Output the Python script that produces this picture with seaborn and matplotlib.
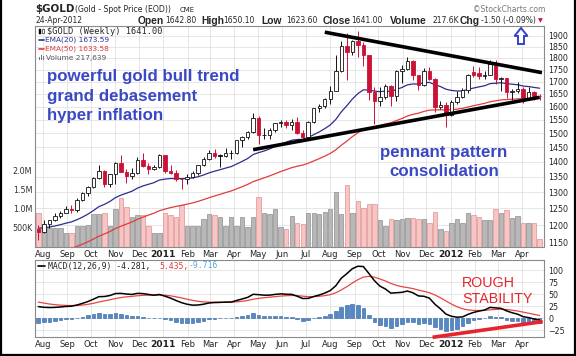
import numpy as np
import pandas as pd
import matplotlib
matplotlib.use("Agg")
import matplotlib.pyplot as plt
import matplotlib.dates as mdates
from matplotlib.ticker import NullLocator, FixedLocator, FixedFormatter
from matplotlib.patches import Polygon, Rectangle
from matplotlib.lines import Line2D
import seaborn as sns

# ---------------- data (weekly, $GOLD) ----------------
first_week = "2010-07-26"
opens = [1188, 1181, 1204, 1215, 1227, 1237, 1247, 1246, 1276, 1297,
         1317, 1345, 1369, 1327, 1357, 1394, 1366, 1353, 1363, 1406,
         1385, 1376, 1380, 1421, 1369, 1361, 1343, 1341, 1349, 1361,
         1388, 1409, 1429, 1420, 1420, 1429, 1429, 1474, 1486, 1503,
         1556, 1492, 1492, 1511, 1536, 1542, 1529, 1540, 1501, 1486,
         1542, 1594, 1601, 1628, 1663, 1742, 1852, 1828, 1877, 1856,
         1813, 1656, 1622, 1636, 1682, 1642, 1745, 1754, 1788, 1725,
         1685, 1746, 1712, 1598, 1606, 1566, 1617, 1639, 1664, 1740,
         1735, 1723, 1725, 1775, 1710, 1713, 1659, 1663, 1668, 1631,
         1659, 1642.8]
highs = [1199, 1215, 1216, 1236, 1241, 1256, 1259, 1283, 1300, 1320,
         1349, 1387, 1372, 1358, 1398, 1424, 1374, 1379, 1414, 1431,
         1395, 1390, 1425, 1424, 1390, 1373, 1346, 1360, 1369, 1390,
         1415, 1440, 1445, 1426, 1448, 1440, 1475, 1489, 1508, 1576,
         1564, 1519, 1517, 1538, 1550, 1550, 1552, 1560, 1512, 1545,
         1595, 1610, 1632, 1682, 1814, 1877, 1912, 1882, 1921, 1871,
         1813, 1676, 1676, 1688, 1687, 1747, 1769, 1802, 1790, 1726,
         1755, 1762, 1716, 1621, 1617, 1627, 1662, 1672, 1731, 1764,
         1763, 1744, 1790, 1792, 1719, 1716, 1669, 1696, 1679, 1677,
         1660, 1650.1]
lows = [1157, 1177, 1192, 1213, 1222, 1236, 1236, 1240, 1271, 1288,
        1313, 1343, 1317, 1315, 1326, 1364, 1330, 1341, 1358, 1380,
        1358, 1373, 1378, 1361, 1358, 1334, 1309, 1326, 1345, 1354,
        1385, 1407, 1411, 1381, 1417, 1408, 1426, 1452, 1479, 1500,
        1462, 1480, 1478, 1505, 1522, 1520, 1510, 1497, 1478, 1480,
        1538, 1579, 1595, 1610, 1661, 1740, 1705, 1811, 1806, 1766,
        1627, 1535, 1601, 1630, 1603, 1620, 1692, 1749, 1705, 1667,
        1680, 1705, 1577, 1589, 1523, 1564, 1610, 1634, 1652, 1720,
        1712, 1712, 1725, 1688, 1662, 1635, 1627, 1653, 1612, 1627,
        1625, 1623.6]
closes = [1181, 1204, 1215, 1227, 1237, 1247, 1246, 1275, 1297, 1317,
          1345, 1369, 1327, 1357, 1394, 1366, 1353, 1363, 1406, 1385,
          1376, 1380, 1421, 1369, 1361, 1343, 1341, 1349, 1361, 1388,
          1409, 1429, 1420, 1420, 1429, 1429, 1474, 1486, 1503, 1556,
          1492, 1492, 1511, 1536, 1542, 1529, 1540, 1501, 1486, 1542,
          1594, 1601, 1628, 1663, 1742, 1852, 1828, 1877, 1856, 1813,
          1656, 1622, 1636, 1682, 1642, 1745, 1754, 1788, 1725, 1685,
          1746, 1712, 1598, 1606, 1566, 1617, 1639, 1664, 1727, 1725,
          1723, 1725, 1775, 1710, 1713, 1659, 1663, 1668, 1631, 1659,
          1642.5, 1641.0]
volumes_k = [890, 505, 510, 505, 500, 375, 375, 560, 560, 575,
             870, 870, 900, 560, 995, 1290, 1060, 800, 840, 840,
             560, 375, 375, 900, 840, 780, 1100, 560, 560, 560,
             724, 855, 840, 800, 547, 800, 547, 800, 513, 800,
             1300, 900, 860, 987, 513, 470, 810, 640, 600, 880,
             880, 860, 930, 1000, 1450, 860, 1630, 900, 1220, 1020,
             1140, 1140, 720, 550, 740, 720, 740, 750, 750, 740,
             740, 640, 915, 480, 410, 640, 740, 640, 900, 850,
             800, 700, 700, 990, 900, 960, 750, 820, 640, 630,
             630, 218]

ema20_seed = 1192.0
ema50_seed = 1105.0
ema12_seed = 1203.0
ema26_seed = 1175.0
signal_seed = 36.0

price_ticks = [1150, 1200, 1250, 1300, 1350, 1400, 1450, 1500, 1550, 1600,
               1650, 1700, 1750, 1800, 1850, 1900]
volume_ticks = [0.5, 1.0, 1.5, 2.0]
volume_tick_labels = ["500K", "1.0M", "1.5M", "2.0M"]
macd_ticks = [-25, 0, 25, 50, 75, 100]

upper_trend_dates = ["2011-07-25", "2012-04-26"]
upper_trend_prices = [1916, 1737]
lower_trend_dates = ["2011-04-25", "2012-04-23"]
lower_trend_prices = [1441, 1636]
macd_trend_dates = ["2011-12-09", "2012-04-27"]
macd_trend_values = [-39.6, -7.0]

# ---------------- computations ----------------
def ema(values, span, seed):
    a = 2.0 / (span + 1)
    out, prev = [], seed
    for v in values:
        prev = prev + a * (v - prev)
        out.append(prev)
    return np.array(out)

o = np.array(opens, float); h = np.array(highs, float)
l = np.array(lows, float); c = np.array(closes, float)
vol = np.array(volumes_k, float) / 1000.0
n = len(c)
dates = pd.date_range(first_week, periods=n, freq="7D")
x = mdates.date2num(dates.to_pydatetime())

ema20 = ema(c, 20, ema20_seed)
ema50 = ema(c, 50, ema50_seed)
macd = ema(c, 12, ema12_seed) - ema(c, 26, ema26_seed)
signal = ema(macd, 9, signal_seed)
hist = macd - signal

prev_c = np.concatenate([[c[0] + 1], c[:-1]])
up_week = c >= prev_c

# ---------------- style ----------------
sns.set_style("white")
plt.rcParams['font.family'] = ['DejaVu Sans']

UP = "#111111"; DOWN = "#cc1136"
VOL_UP, VOL_UP_E = "#b8b8b8", "#8e8e8e"
VOL_DN, VOL_DN_E = "#f6c6c6", "#e39090"
EMA20_C = "#2d2d8f"; EMA50_C = "#e33b3b"
HIST_C, HIST_E = "#5389c8", "#2f5f9a"
GRID = "#e2e2e2"; FRAME = "#8a8a8a"
BLUE_TXT = "#3b48c4"; RED_TXT = "#e8232b"

W, H = 576, 356
fig = plt.figure(figsize=(W / 100, H / 100), dpi=100)
fig.patch.set_facecolor("white")

def rect(lft, top, rgt, bot):
    return [lft / W, 1 - bot / H, (rgt - lft) / W, (bot - top) / H]

def fpt(px, py):
    return (px / W, 1 - py / H)

MAIN = rect(35, 26, 544, 247)
axv = fig.add_axes(MAIN)
ax = fig.add_axes(MAIN)
axm = fig.add_axes(rect(35, 260, 544, 337))
ax.set_zorder(axv.get_zorder() + 1)
ax.patch.set_visible(False)

xl = (x[0] - 4.2, x[0] + 642.6)
plo, phi = 1138.0, 1945.0
vmax = 5.8
months = pd.date_range("2010-08-01", "2012-04-01", freq="MS")
mx = mdates.date2num(months.to_pydatetime())

# ----- volume layer + grid -----
for a_ in (axv, ax, axm):
    a_.set_xlim(*xl)
    a_.tick_params(axis='x', bottom=False, labelbottom=False, top=False)
axv.set_ylim(0, vmax)
for m in mx:
    axv.axvline(m, color=GRID, lw=0.6, zorder=0)
    axm.axvline(m, color=GRID, lw=0.6, zorder=0)
for p in price_ticks:
    frac = (np.log(p) - np.log(plo)) / (np.log(phi) - np.log(plo))
    axv.axhline(frac * vmax, color=GRID, lw=0.6, zorder=0)
axv.bar(x, vol, width=5.6, color=np.where(up_week, VOL_UP, VOL_DN),
        edgecolor=np.where(up_week, VOL_UP_E, VOL_DN_E), linewidth=0.5, zorder=2)
axv.yaxis.set_major_locator(FixedLocator(volume_ticks))
axv.yaxis.set_major_formatter(FixedFormatter(volume_tick_labels))
axv.tick_params(axis='y', length=0, pad=2, labelsize=5.8, colors="#333333")
for s in axv.spines.values():
    s.set_color(FRAME); s.set_linewidth(0.8)

# ----- price layer -----
ax.set_yscale("log")
ax.set_ylim(plo, phi)
ax.yaxis.set_major_locator(FixedLocator(price_ticks))
ax.yaxis.set_major_formatter(FixedFormatter([str(p) for p in price_ticks]))
ax.yaxis.set_minor_locator(NullLocator())
ax.yaxis.tick_right()
ax.tick_params(axis='y', which='both', length=0, pad=3, labelsize=5.7, colors="#222222")
for s in ax.spines.values():
    s.set_visible(False)

sns.lineplot(x=x, y=ema50, ax=ax, color=EMA50_C, lw=0.9, legend=False, errorbar=None, zorder=3)
sns.lineplot(x=x, y=ema20, ax=ax, color=EMA20_C, lw=0.9, legend=False, errorbar=None, zorder=3)

cand_col = np.where(up_week, UP, DOWN)
ax.vlines(x, l, h, colors=cand_col, lw=0.7, zorder=4)
body_lo = np.minimum(o, c)
body_h = np.maximum(np.abs(c - o), 1.6)
body_fill = [("white" if cc > oo else col) for cc, oo, col in zip(c, o, cand_col)]
ax.bar(x, body_h, bottom=body_lo, width=4.4, color=body_fill, edgecolor=cand_col,
       linewidth=0.6, zorder=5)

# trend lines
ax.plot(mdates.date2num(pd.to_datetime(upper_trend_dates).to_pydatetime()), upper_trend_prices,
        color="black", lw=2.6, solid_capstyle="butt", zorder=6)
ax.plot(mdates.date2num(pd.to_datetime(lower_trend_dates).to_pydatetime()), lower_trend_prices,
        color="black", lw=2.6, solid_capstyle="butt", zorder=6)

# ----- MACD panel -----
axm.set_ylim(-39, 121)
axm.yaxis.set_major_locator(FixedLocator(macd_ticks))
axm.yaxis.tick_right()
axm.tick_params(axis='y', length=0, pad=3, labelsize=5.7, colors="#222222")
for t in macd_ticks:
    axm.axhline(t, color=GRID, lw=0.6, zorder=0)
axm.bar(x, hist, width=4.6, color=HIST_C, edgecolor=HIST_E, linewidth=0.4, zorder=2)
sns.lineplot(x=x, y=signal, ax=axm, color="#e84545", lw=0.9, legend=False, errorbar=None, zorder=3)
sns.lineplot(x=x, y=macd, ax=axm, color="black", lw=1.1, legend=False, errorbar=None, zorder=4)
axm.plot(mdates.date2num(pd.to_datetime(macd_trend_dates).to_pydatetime()), macd_trend_values,
         color="#e8232b", lw=2.6, solid_capstyle="butt", zorder=6, clip_on=False)
for s in axm.spines.values():
    s.set_color(FRAME); s.set_linewidth(0.8)
axm.set_xlabel(""); axm.set_ylabel(""); ax.set_xlabel(""); ax.set_ylabel("")

# ----- month labels -----
for m_dt, m_x in zip(months, mx):
    lab = str(m_dt.year) if m_dt.month == 1 else m_dt.strftime("%b")
    wt = "bold" if m_dt.month == 1 else "normal"
    fs = 6.6 if m_dt.month == 1 else 6.0
    for a_, yy in ((ax, -0.033), (axm, -0.095)):
        a_.text(m_x, yy, lab, transform=a_.get_xaxis_transform(), ha="center", va="center",
                fontsize=fs, fontweight=wt, color="#222222", clip_on=False)

# ----- header texts -----
fig.text(*fpt(35, 9), "$GOLD", fontsize=7.4, fontweight="bold", va="center", ha="left")
fig.text(*fpt(75, 9.5), "(Gold - Spot Price (EOD))", fontsize=5.6, va="center", ha="left")
fig.text(*fpt(180, 9.5), "CME", fontsize=5.0, va="center", ha="left")
fig.text(*fpt(545, 10), "\u00a9StockCharts.com", fontsize=5.5, color="#777777", va="center", ha="right")
fig.text(*fpt(35, 20.5), "24-Apr-2012", fontsize=5.5, va="center", ha="left")
header = [("Open", 137.7, True), ("1642.80", 165.7, False), ("High", 201.7, True),
          ("1650.10", 223.3, False), ("Low", 261.7, True), ("1623.60", 286.0, False),
          ("Close", 322.7, True), ("1641.00", 351.7, False), ("Volume", 389.5, True),
          ("217.6K", 432.7, False), ("Chg", 460.0, True), ("-1.50 (-0.09%)", 481.0, False)]
for s, px, b in header:
    if b:
        fig.text(*fpt(px, 20.5), s, fontsize=7.4, fontweight="bold", family="Liberation Sans",
                 va="center", ha="left")
    else:
        fig.text(*fpt(px, 20.5), s, fontsize=5.5, va="center", ha="left")
fig.text(*fpt(538, 20.5), "\u25bc", fontsize=4.5, color="#cc1136", va="center", ha="left")

# ----- main panel legend -----
fig.patches.append(Rectangle(fpt(39, 34), 1.5 / W, 5 / H, transform=fig.transFigure,
                             facecolor="black", edgecolor="black", lw=0.3))
fig.patches.append(Rectangle(fpt(42, 33), 1.5 / W, 4 / H, transform=fig.transFigure,
                             facecolor="white", edgecolor="black", lw=0.4))
fig.text(*fpt(47, 31.5), "$GOLD (Weekly) 1641.00", fontsize=6.2, family="DejaVu Sans Mono",
         va="center", ha="left")
fig.lines.append(Line2D([39 / W, 44 / W], [1 - 40 / H] * 2, transform=fig.transFigure,
                        color=EMA20_C, lw=1.2))
fig.text(*fpt(45, 40), "EMA(20) 1673.59", fontsize=5.3, color=EMA20_C, va="center", ha="left")
fig.lines.append(Line2D([39 / W, 44 / W], [1 - 49 / H] * 2, transform=fig.transFigure,
                        color="#e33b3b", lw=1.2))
fig.text(*fpt(45, 49), "EMA(50) 1633.58", fontsize=5.3, color="#e33b3b", va="center", ha="left")
for bx, bh in ((39, 3), (41, 5), (43, 4)):
    fig.patches.append(Rectangle(fpt(bx, 60), 1.3 / W, bh / H, transform=fig.transFigure,
                                 facecolor="#777777", edgecolor="none"))
fig.text(*fpt(46, 58), "Volume 217,639", fontsize=5.3, color="#555555", va="center", ha="left")

# ----- MACD legend -----
fig.lines.append(Line2D([38 / W, 45 / W], [1 - 266 / H] * 2, transform=fig.transFigure,
                        color="black", lw=1.2))
fig.text(*fpt(48, 266), "MACD(12,26,9) -4.281,", fontsize=5.9, family="DejaVu Sans Mono",
         va="center", ha="left")
fig.text(*fpt(159, 266), "5.435,", fontsize=5.9, family="DejaVu Sans Mono", color="#e33b3b",
         va="center", ha="left")
fig.text(*fpt(189, 266), "-9.716", fontsize=5.9, family="DejaVu Sans Mono", color="#5aa5d6",
         va="center", ha="left")

# ----- annotations -----
for s, yb in (("powerful gold bull trend", 81.5), ("grand debasement", 101.0), ("hyper inflation", 120.0)):
    fig.text(*fpt(47, yb), s, fontsize=12.2, fontweight="bold", family="Liberation Sans",
             color=BLUE_TXT, va="baseline", ha="left")
for s, yb in (("pennant pattern", 157.0), ("consolidation", 176.5)):
    fig.text(*fpt(444, yb), s, fontsize=12.2, fontweight="bold", family="Liberation Sans",
             color=BLUE_TXT, va="baseline", ha="center")
for s, yb in (("ROUGH", 286.7), ("STABILITY", 302.7)):
    fig.text(*fpt(462, yb), s, fontsize=10.3, family="Liberation Sans",
             color=RED_TXT, va="baseline", ha="left")

arrow_px = [(521, 28), (527.5, 36), (524, 36), (524, 44), (518, 44), (518, 36), (514.5, 36)]
fig.patches.append(Polygon([fpt(px, py) for px, py in arrow_px], closed=True,
                           transform=fig.transFigure, facecolor="white",
                           edgecolor="#3344cc", lw=1.4, zorder=10))

# figure frame
for xs, ys in (([0.8, 0.8], [0, H]), ([W - 0.8, W - 0.8], [0, H]), ([0, W], [H - 1, H - 1])):
    fig.lines.append(Line2D([v / W for v in xs], [1 - v / H for v in ys],
                            transform=fig.transFigure, color="black", lw=1.6))

fig.savefig("out.png", dpi=100)
